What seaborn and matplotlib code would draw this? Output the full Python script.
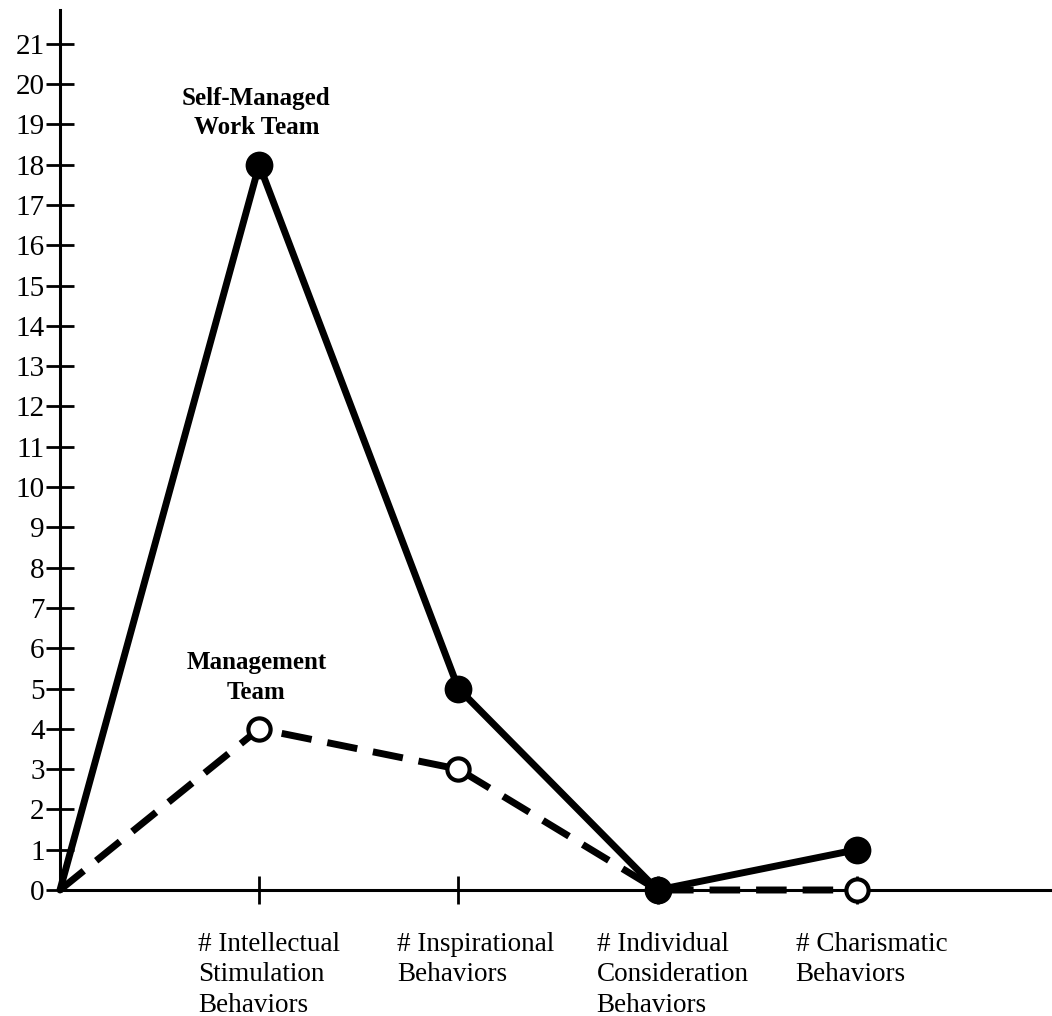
import numpy as np
import pandas as pd
import seaborn as sns
import matplotlib.pyplot as plt
from matplotlib.transforms import ScaledTranslation

# data
positions = [0, 1, 2, 3, 4]
categories = ['# Intellectual\nStimulation\nBehaviors',
              '# Inspirational\nBehaviors',
              '# Individual\nConsideration\nBehaviors',
              '# Charismatic\nBehaviors']
self_managed = [0, 18, 5, 0, 1]
management = [0, 4, 3, 0, 0]
teams = ['Self-Managed\nWork Team', 'Management\nTeam']

sns.set_style('ticks')
plt.rcParams['font.family'] = ['Liberation Serif', 'DejaVu Serif']
plt.rcParams['text.color'] = 'black'

df = pd.DataFrame({
    'pos': positions * 2,
    'count': self_managed + management,
    'team': [teams[0]] * len(positions) + [teams[1]] * len(positions),
})

fig = plt.figure(figsize=(10.52, 10.16), dpi=100)
ax = fig.add_axes([60 / 1052, 126 / 1016, 990 / 1052, 880 / 1016])

# lines
sns.lineplot(data=df, x='pos', y='count', hue='team', style='team',
             palette={teams[0]: 'black', teams[1]: 'black'},
             dashes={teams[0]: '', teams[1]: (4.4, 2.3)},
             linewidth=5, legend=False, ax=ax, clip_on=False)

# markers (none at the origin)
pts = df[df['pos'] > 0]
sns.scatterplot(data=pts[pts['team'] == teams[1]], x='pos', y='count',
                s=256, color='white', edgecolor='black', linewidth=3,
                zorder=4, clip_on=False, ax=ax, legend=False)
sns.scatterplot(data=pts[pts['team'] == teams[0]], x='pos', y='count',
                s=400, color='black', edgecolor='black', linewidth=0,
                zorder=5, clip_on=False, ax=ax, legend=False)

# team labels above the first category
for team, vals in zip(teams, [self_managed, management]):
    ax.annotate(team, xy=(positions[1], vals[1]), xytext=(-2, 37),
                textcoords='offset points', ha='center', va='center',
                fontsize=18, fontweight='bold', linespacing=1.35,
                color='black')

ax.set_xlim(0, 4.97)
ax.set_ylim(0, 21.84)
ax.set_xlabel('')
ax.set_ylabel('')

sns.despine(ax=ax)
for side in ['left', 'bottom']:
    ax.spines[side].set_linewidth(2.2)
    ax.spines[side].set_color('black')

ax.set_yticks(range(22))
ax.set_xticks(positions[1:])
ax.set_xticklabels(categories, ha='left', fontsize=19.5, linespacing=1.3)
ax.tick_params(axis='both', direction='inout', length=20, width=2,
               color='black', labelcolor='black')
ax.tick_params(axis='y', labelsize=21, pad=1)
ax.tick_params(axis='x', pad=20)

shift = ScaledTranslation(-61 / 100, 0, fig.dpi_scale_trans)
for lab in ax.get_xticklabels():
    lab.set_transform(lab.get_transform() + shift)

fig.savefig('out.png', dpi=100)
